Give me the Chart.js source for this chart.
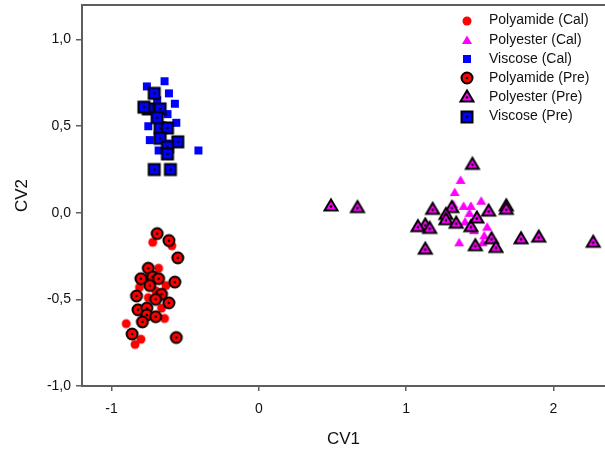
<!DOCTYPE html>
<html>
<head>
<meta charset="utf-8">
<script src="https://cdn.jsdelivr.net/npm/chart.js@4.4.0/dist/chart.umd.min.js"></script>
<style>
html, body { margin: 0; padding: 0; background: #fff; }
</style>
</head>
<body>
<canvas id="cvChart" width="605" height="454"></canvas>
<script>
// canonical variate scores, [CV1, CV2]
const polyamideCal = [[-0.72,-0.17],[-0.59,-0.19],[-0.68,-0.32],[-0.81,-0.43],[-0.63,-0.42],[-0.75,-0.49],[-0.64,-0.61],
    [-0.90,-0.64],[-0.80,-0.73],[-0.84,-0.76],[-0.70,-0.45],[-0.74,-0.36],[-0.66,-0.55],[-0.77,-0.58]];
const polyesterCal = [[1.37,0.19],[1.33,0.12],[1.39,0.04],[1.44,0.04],[1.51,0.07],[1.43,0.00],[1.36,-0.17],
    [1.55,-0.08],[1.53,-0.13],[1.52,-0.17],[1.32,0.05],[1.40,-0.05],[1.46,-0.10]];
const viscoseCal = [[-0.64,0.76],[-0.76,0.73],[-0.61,0.69],[-0.57,0.63],[-0.62,0.57],[-0.56,0.52],[-0.75,0.50],
    [-0.41,0.36],[-0.68,0.36],[-0.79,0.61],[-0.70,0.55],[-0.66,0.45],[-0.74,0.42],[-0.62,0.40],[-0.69,0.65]];
const polyamidePre = [[-0.69,-0.12],[-0.61,-0.16],[-0.55,-0.26],[-0.75,-0.32],[-0.72,-0.37],[-0.80,-0.38],[-0.74,-0.42],
    [-0.68,-0.38],[-0.57,-0.40],[-0.83,-0.48],[-0.66,-0.47],[-0.70,-0.50],[-0.61,-0.52],[-0.82,-0.56],[-0.76,-0.55],
    [-0.76,-0.59],[-0.70,-0.60],[-0.79,-0.63],[-0.86,-0.70],[-0.56,-0.72]];
const polyesterPre = [[1.45,0.28],[1.18,0.02],[1.31,0.03],[1.27,-0.01],[1.56,0.01],[1.68,0.04],[1.68,0.02],[1.13,-0.07],
    [1.08,-0.08],[1.16,-0.09],[1.27,-0.04],[1.34,-0.06],[1.44,-0.08],[1.48,-0.03],[1.58,-0.15],[1.47,-0.19],[1.61,-0.20],
    [1.78,-0.15],[1.90,-0.14],[2.27,-0.17],[1.13,-0.21],[0.49,0.04],[0.67,0.03]];
const viscosePre = [[-0.71,0.69],[-0.75,0.60],[-0.67,0.60],[-0.67,0.49],[-0.62,0.49],[-0.67,0.43],[-0.55,0.41],
    [-0.62,0.38],[-0.62,0.34],[-0.71,0.25],[-0.60,0.25],[-0.78,0.61],[-0.69,0.55]];

const seriesLabels = ['Polyamide (Cal)', 'Polyester (Cal)', 'Viscose (Cal)', 'Polyamide (Pre)', 'Polyester (Pre)', 'Viscose (Pre)'];
const xTicks = [-1, 0, 1, 2];
const yTicks = [-1, -0.5, 0, 0.5, 1];

const fontFamily = '"Liberation Sans", Arial, sans-serif';
const axisColor = '#5e5e5e';

// draws a marker into a small canvas so chart and legend use the same symbol
function makeMarker(shape, fill, framed) {
    const size = framed ? 20 : 12;
    const c = document.createElement('canvas');
    c.width = size;
    c.height = size;
    const g = c.getContext('2d');
    const m = size / 2;
    g.fillStyle = fill;
    g.strokeStyle = '#000';
    g.lineWidth = 2;
    g.beginPath();
    if (shape === 'circle') {
        g.arc(m, m, framed ? 5.5 : 4.5, 0, Math.PI * 2);
    } else if (shape === 'square') {
        const h = framed ? 5.5 : 4;
        g.rect(m - h, m - h, 2 * h, 2 * h);
    } else {
        const w = framed ? 6.5 : 5;
        g.moveTo(m, m - (framed ? 6.5 : 4.5));
        g.lineTo(m - w, m + (framed ? 4.5 : 4));
        g.lineTo(m + w, m + (framed ? 4.5 : 4));
    }
    g.closePath();
    g.fill();
    if (framed) {
        g.stroke();
        g.fillStyle = '#000';
        g.beginPath();
        g.arc(m, shape === 'triangle' ? m + 0.5 : m, 1.3, 0, Math.PI * 2);
        g.fill();
    }
    return c;
}

function toPoints(arr) {
    return arr.map(p => ({ x: p[0], y: p[1] }));
}

// no extra room for the edge labels, the frame fills the canvas
function fixBox(s, prop, size) {
    s[prop] = size;
    s.paddingTop = 0;
    s.paddingBottom = 0;
    s.paddingLeft = 0;
    s.paddingRight = 0;
}

const seriesData = [polyamideCal, polyesterCal, viscoseCal, polyamidePre, polyesterPre, viscosePre];
const markers = [
    makeMarker('circle', '#ff0000', false),
    makeMarker('triangle', '#ff00ff', false),
    makeMarker('square', '#0000ff', false),
    makeMarker('circle', '#ff0000', true),
    makeMarker('triangle', '#ff00ff', true),
    makeMarker('square', '#0000ff', true)
];

const datasets = seriesData.map((arr, i) => ({
    label: seriesLabels[i],
    data: toPoints(arr),
    pointStyle: markers[i],
    pointRadius: 5,
    order: i < 3 ? 1 : 0   // framed (Pre) symbols on top
}));

// top frame line
const frameTop = {
    id: 'frameTop',
    afterDraw(chart) {
        const { ctx, chartArea: a } = chart;
        ctx.save();
        ctx.strokeStyle = axisColor;
        ctx.lineWidth = 2;
        ctx.beginPath();
        ctx.moveTo(a.left - 1, a.top);
        ctx.lineTo(a.right, a.top);
        ctx.stroke();
        ctx.restore();
    }
};

// legend inside the plot, top right
const legendBox = {
    id: 'legendBox',
    afterDraw(chart) {
        const ctx = chart.ctx;
        ctx.save();
        ctx.font = '14px ' + fontFamily;
        ctx.fillStyle = '#111';
        ctx.textBaseline = 'middle';
        chart.data.datasets.forEach((ds, i) => {
            const y = 20.5 + i * 19.2;
            const img = ds.pointStyle;
            ctx.drawImage(img, Math.round(467 - img.width / 2), Math.round(y - img.height / 2));
            ctx.fillText(ds.label, 489, y);
        });
        ctx.restore();
    }
};

new Chart(document.getElementById('cvChart').getContext('2d'), {
    type: 'scatter',
    data: { datasets: datasets },
    plugins: [frameTop, legendBox],
    options: {
        responsive: false,
        animation: false,
        layout: { autoPadding: false, padding: { top: 5, right: 0, bottom: 0, left: 0 } },
        plugins: {
            legend: { display: false },
            tooltip: { enabled: false }
        },
        scales: {
            x: {
                type: 'linear',
                min: -1.2,
                max: 2.35,
                afterFit: s => fixBox(s, 'height', 68),
                afterBuildTicks: s => { s.ticks = xTicks.map(v => ({ value: v })); },
                ticks: {
                    callback: v => String(v),
                    font: { family: fontFamily, size: 14 },
                    color: '#111',
                    padding: 10
                },
                grid: { drawOnChartArea: false, tickLength: 5, color: axisColor, lineWidth: 1.5 },
                border: { color: axisColor, width: 2 },
                title: {
                    display: true,
                    text: 'CV1',
                    font: { family: fontFamily, size: 17 },
                    color: '#111',
                    padding: { top: 0, bottom: 4 }
                }
            },
            y: {
                type: 'linear',
                min: -1.0,
                max: 1.2,
                afterFit: s => fixBox(s, 'width', 82),
                afterBuildTicks: s => { s.ticks = yTicks.map(v => ({ value: v })); },
                ticks: {
                    callback: v => v.toFixed(1).replace('.', ','),
                    font: { family: fontFamily, size: 14 },
                    color: '#111',
                    padding: 5
                },
                grid: { drawOnChartArea: false, tickLength: 6, color: axisColor, lineWidth: 1.5 },
                border: { color: axisColor, width: 2 },
                title: {
                    display: true,
                    text: 'CV2',
                    font: { family: fontFamily, size: 17 },
                    color: '#111',
                    padding: { top: 12, bottom: 0 }
                }
            }
        }
    }
});
</script>
</body>
</html>
